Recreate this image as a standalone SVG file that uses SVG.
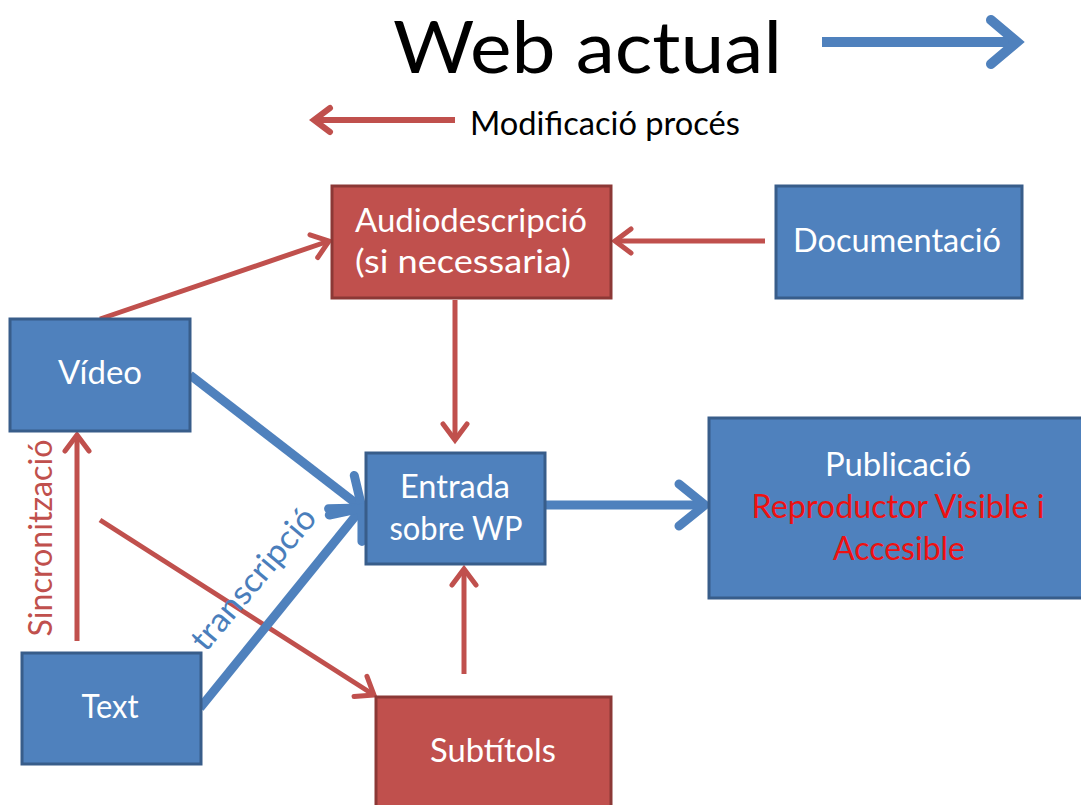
<svg xmlns="http://www.w3.org/2000/svg" width="1081" height="805" viewBox="0 0 1081 805">
  <style>
    .lbl { font-family: Lato, "Open Sans", "Liberation Sans", sans-serif; }
    .box-b { fill: #4F81BD; stroke: #385D8A; stroke-width: 3; }
    .box-r { fill: #C0504D; stroke: #8C3836; stroke-width: 3; }
    .in { fill: #FFFFFF; font-size: 33px; text-anchor: middle; }
    .ln-r { stroke: #C0504D; stroke-width: 5; fill: none; marker-end: url(#ar); }
    .ln-b { stroke: #4F81BD; stroke-width: 9; fill: none; marker-end: url(#ab); }
  </style>
  <defs>
    <marker id="ar" markerUnits="userSpaceOnUse" orient="auto" overflow="visible" refX="0" refY="0" markerWidth="1" markerHeight="1">
      <path d="M-16,-12 L0,0 L-16,12" fill="none" stroke="#C0504D" stroke-width="5" stroke-linecap="round" stroke-linejoin="miter"/>
    </marker>
    <marker id="ab" markerUnits="userSpaceOnUse" orient="auto" overflow="visible" refX="0" refY="0" markerWidth="1" markerHeight="1">
      <path d="M-26,-21 L0,0 L-26,21" fill="none" stroke="#4F81BD" stroke-width="9" stroke-linecap="round" stroke-linejoin="miter"/>
    </marker>
  </defs>

  <rect width="1081" height="805" fill="#FFFFFF"/>

  <!-- legend -->
  <g id="legend">
    <text class="lbl" x="393" y="73" font-size="72" fill="#000000" textLength="389" lengthAdjust="spacingAndGlyphs">Web actual</text>
    <line x1="822" y1="42" x2="1016" y2="42" stroke="#4F81BD" stroke-width="10"/>
    <path d="M991,20 L1017,42 L991,64" fill="none" stroke="#4F81BD" stroke-width="10" stroke-linecap="round"/>
    <line x1="455" y1="120" x2="316" y2="120" stroke="#C0504D" stroke-width="6"/>
    <path d="M330,108 L314,120 L330,132" fill="none" stroke="#C0504D" stroke-width="6" stroke-linecap="round"/>
    <text class="lbl" x="470" y="135" font-size="33" fill="#000000" textLength="270" lengthAdjust="spacingAndGlyphs">Modificació procés</text>
  </g>

  <!-- connectors -->
  <g id="connectors">
    <line class="ln-r" x1="100" y1="319" x2="329" y2="241"/>
    <line class="ln-r" x1="765" y1="241" x2="615" y2="241"/>
    <line class="ln-r" x1="455" y1="300" x2="455" y2="440"/>
    <line class="ln-r" x1="77" y1="641" x2="77" y2="435"/>
    <line class="ln-r" x1="100" y1="520" x2="374" y2="695"/>
    <line class="ln-r" x1="464" y1="674" x2="464" y2="569"/>
    <line class="ln-b" x1="190" y1="375" x2="362" y2="508"/>
    <line class="ln-b" x1="200" y1="708" x2="362" y2="508"/>
    <line class="ln-b" x1="546" y1="505" x2="705" y2="505"/>
    <text class="lbl" transform="translate(52,538) rotate(-90)" font-size="33" fill="#C0504D" text-anchor="middle" textLength="197" lengthAdjust="spacingAndGlyphs">Sincronització</text>
    <text class="lbl" transform="translate(262,586) rotate(-50)" font-size="33" fill="#4A7EBB" text-anchor="middle" textLength="175" lengthAdjust="spacingAndGlyphs">transcripció</text>
  </g>

  <!-- nodes -->
  <g id="audiodescripcio">
    <rect class="box-r" x="332" y="186" width="279" height="112"/>
    <text class="lbl in" x="471" y="232" textLength="232" lengthAdjust="spacingAndGlyphs">Audiodescripció</text>
    <text class="lbl in" x="463" y="273" textLength="216" lengthAdjust="spacingAndGlyphs">(si necessaria)</text>
  </g>
  <g id="documentacio">
    <rect class="box-b" x="776" y="186" width="246" height="112"/>
    <text class="lbl in" x="897" y="252" textLength="208" lengthAdjust="spacingAndGlyphs">Documentació</text>
  </g>
  <g id="video">
    <rect class="box-b" x="10" y="319" width="180" height="112"/>
    <text class="lbl in" x="100" y="384" textLength="84" lengthAdjust="spacingAndGlyphs">Vídeo</text>
  </g>
  <g id="entrada">
    <rect class="box-b" x="366" y="453" width="179" height="111"/>
    <text class="lbl in" x="455" y="498" textLength="110" lengthAdjust="spacingAndGlyphs">Entrada</text>
    <text class="lbl in" x="456" y="540" textLength="133" lengthAdjust="spacingAndGlyphs">sobre WP</text>
  </g>
  <g id="publicacio">
    <rect class="box-b" x="709" y="418" width="385" height="180"/>
    <text class="lbl in" x="898" y="476" textLength="146" lengthAdjust="spacingAndGlyphs">Publicació</text>
    <text class="lbl in" x="898" y="518" style="fill:#EE1111" textLength="293" lengthAdjust="spacingAndGlyphs">Reproductor Visible i</text>
    <text class="lbl in" x="899" y="560" style="fill:#EE1111" textLength="132" lengthAdjust="spacingAndGlyphs">Accesible</text>
  </g>
  <g id="text">
    <rect class="box-b" x="22" y="653" width="179" height="111"/>
    <text class="lbl in" x="110" y="718" textLength="57" lengthAdjust="spacingAndGlyphs">Text</text>
  </g>
  <g id="subtitols">
    <rect class="box-r" x="376" y="697" width="235" height="115"/>
    <text class="lbl in" x="493" y="762" textLength="126" lengthAdjust="spacingAndGlyphs">Subtítols</text>
  </g>
</svg>
